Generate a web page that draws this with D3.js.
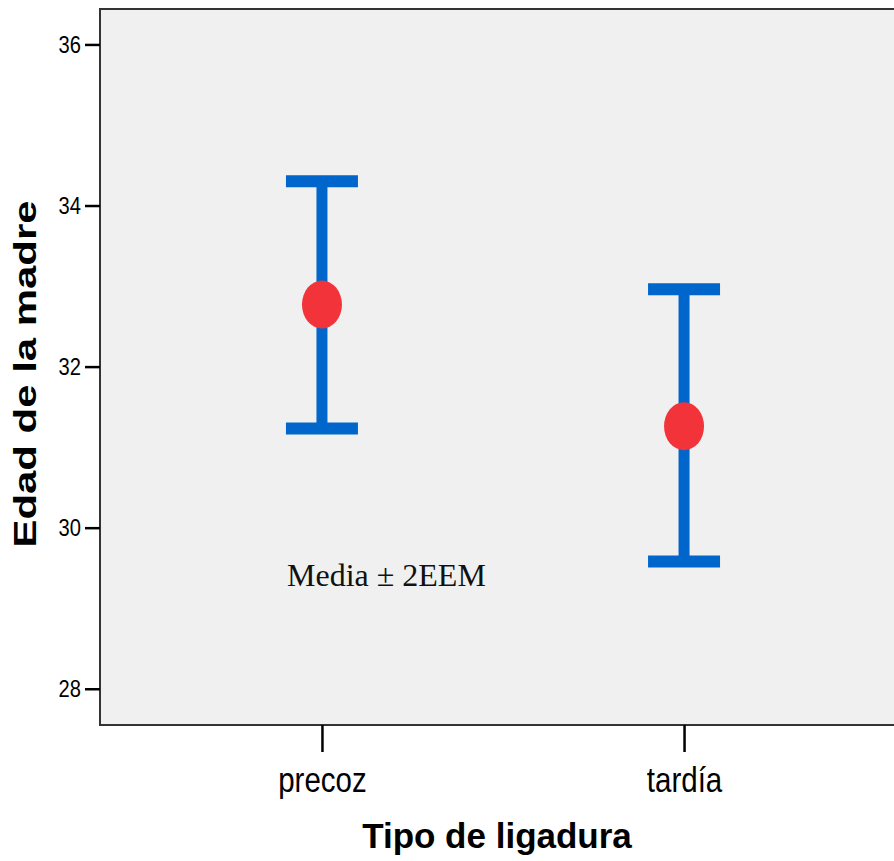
<!DOCTYPE html>
<html lang="es">
<head>
<meta charset="utf-8">
<script src="https://cdn.jsdelivr.net/npm/d3@7"></script>
<style>
  body { margin: 0; background: #fff; }
  svg { display: block; }
</style>
</head>
<body>
<script>
// data
var categories = ["precoz", "tardía"];
var means = [32.77, 31.26];
var upper = [34.30, 32.96];
var lower = [31.23, 29.58];
var yTicks = [28, 30, 32, 34, 36];

var w = 894, h = 861;
var plotLeft = 100, plotTop = 9, plotBottom = 725, plotRight = 906;

var svg = d3.select("body").append("svg")
    .attr("width", w)
    .attr("height", h);

var xScale = d3.scalePoint()
    .domain(categories)
    .range([plotLeft, plotRight])
    .padding(0.613);

var yScale = d3.scaleLinear()
    .domain([27.55, 36.44])
    .range([plotBottom, plotTop]);

// plot background + frame
svg.append("rect")
    .attr("x", plotLeft).attr("y", plotTop)
    .attr("width", plotRight - plotLeft).attr("height", plotBottom - plotTop)
    .attr("fill", "#f0f0f0")
    .attr("stroke", "#333")
    .attr("stroke-width", 2);

// y axis (labels squeezed horizontally, like the original narrow font)
var tickSx = 0.84;
var yAxis = d3.axisLeft(yScale)
    .tickValues(yTicks)
    .tickSize(15)
    .tickPadding(4)
    .tickFormat(d3.format("d"));

var gy = svg.append("g")
    .attr("transform", "translate(" + plotLeft + ",0)")
    .call(yAxis);
gy.select(".domain").remove();
gy.selectAll("line").attr("stroke", "#000").attr("stroke-width", 2.5);
gy.selectAll("text")
    .attr("x", -19 / tickSx)
    .attr("transform", "scale(" + tickSx + ",1)")
    .attr("font-family", "'Liberation Sans', Arial, sans-serif")
    .attr("font-size", 24)
    .attr("fill", "#000");

// x axis
var catSx = 0.82;
var xAxis = d3.axisBottom(xScale)
    .tickSize(27)
    .tickPadding(14);

var gx = svg.append("g")
    .attr("transform", "translate(0," + plotBottom + ")")
    .call(xAxis);
gx.select(".domain").remove();
gx.selectAll("line").attr("stroke", "#000").attr("stroke-width", 2.5);
gx.selectAll("text")
    .attr("transform", "scale(" + catSx + ",1)")
    .attr("font-family", "'Liberation Sans', Arial, sans-serif")
    .attr("font-size", 36)
    .attr("fill", "#000");

// error bars
var capHalf = 36;
var bars = svg.append("g");
categories.forEach(function(c, i) {
    var x = xScale(c);
    bars.append("line")
        .attr("x1", x).attr("x2", x)
        .attr("y1", yScale(upper[i])).attr("y2", yScale(lower[i]))
        .attr("stroke", "#0066cc").attr("stroke-width", 11);
    [upper[i], lower[i]].forEach(function(v) {
        bars.append("line")
            .attr("x1", x - capHalf).attr("x2", x + capHalf)
            .attr("y1", yScale(v)).attr("y2", yScale(v))
            .attr("stroke", "#0066cc").attr("stroke-width", 12);
    });
    bars.append("ellipse")
        .attr("cx", x).attr("cy", yScale(means[i]))
        .attr("rx", 20).attr("ry", 24)
        .attr("fill", "#f2343a");
});

// annotation
svg.append("text")
    .attr("x", 287).attr("y", 586)
    .attr("font-family", "'Liberation Serif', 'Times New Roman', serif")
    .attr("font-size", 32)
    .attr("fill", "#111")
    .text("Media ± 2EEM");

// axis titles
svg.append("text")
    .attr("x", 497).attr("y", 848)
    .attr("text-anchor", "middle")
    .attr("font-family", "'Liberation Sans', Arial, sans-serif")
    .attr("font-weight", "bold")
    .attr("font-size", 35)
    .attr("fill", "#000")
    .text("Tipo de ligadura");

svg.append("text")
    .attr("transform", "translate(36,374) rotate(-90) scale(1.31,1)")
    .attr("text-anchor", "middle")
    .attr("font-family", "'Liberation Sans', Arial, sans-serif")
    .attr("font-weight", "bold")
    .attr("font-size", 32)
    .attr("fill", "#000")
    .text("Edad de la madre");
</script>
</body>
</html>
